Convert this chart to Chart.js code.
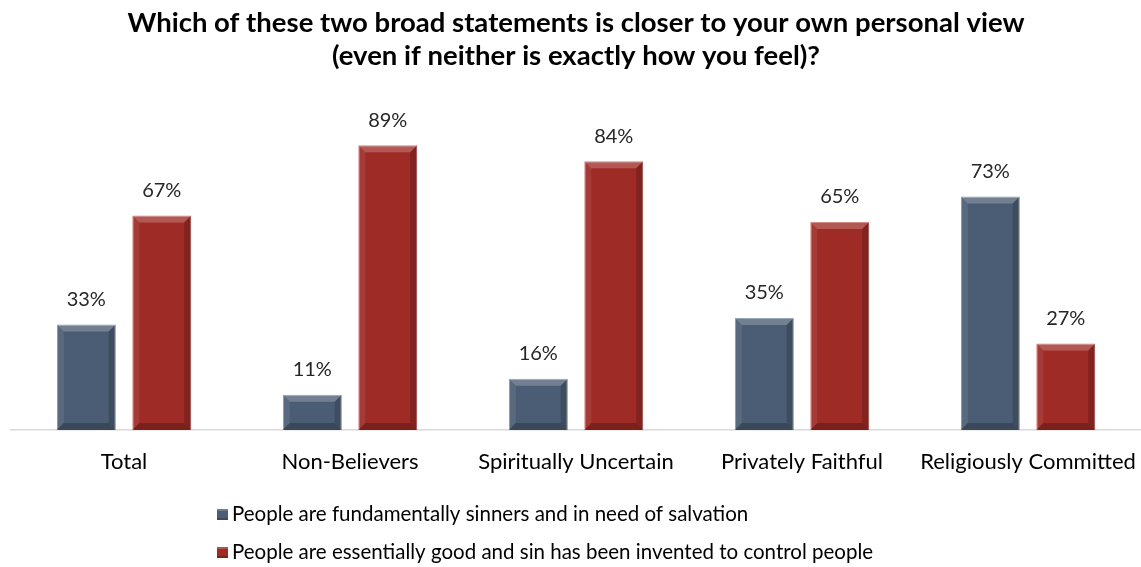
<!DOCTYPE html>
<html>
<head>
<meta charset="utf-8">
<script src="https://cdn.jsdelivr.net/npm/chart.js@4"></script>
<style>
  html, body { margin: 0; padding: 0; background: #fff; }
  #wrap { width: 1141px; height: 567px; }
</style>
</head>
<body>
<div id="wrap"><canvas id="chart"></canvas></div>
<script>
const categories = ['Total', 'Non-Believers', 'Spiritually Uncertain', 'Privately Faithful', 'Religiously Committed'];
const sinners = [33, 11, 16, 35, 73];
const good = [67, 89, 84, 65, 27];
const seriesNames = [
  'People are fundamentally sinners and in need of salvation',
  'People are essentially good and sin has been invented to control people'
];
const titleLines = [
  'Which of these two broad statements is closer to your own personal view',
  '(even if neither is exactly how you feel)?'
];

const FONT = 'Lato, "Open Sans", sans-serif';

// bevel edges on each bar, like the office chart style
const bevelPlugin = {
  id: 'bevel',
  afterDatasetsDraw(chart) {
    const ctx = chart.ctx;
    chart.data.datasets.forEach((ds, i) => {
      chart.getDatasetMeta(i).data.forEach(bar => {
        const l = bar.x - bar.width / 2, r = bar.x + bar.width / 2;
        const t = bar.y, b = bar.base;
        const s = Math.min(7, (b - t) / 2);
        ctx.save();
        const poly = (pts, col) => {
          ctx.beginPath();
          ctx.moveTo(pts[0][0], pts[0][1]);
          pts.slice(1).forEach(p => ctx.lineTo(p[0], p[1]));
          ctx.closePath();
          ctx.fillStyle = col;
          ctx.fill();
        };
        poly([[l, t], [r, t], [r - s, t + s], [l + s, t + s]], 'rgba(255,255,255,0.22)');
        poly([[l, t], [l + s, t + s], [l + s, b - s], [l, b]], 'rgba(255,255,255,0.08)');
        poly([[r, t], [r, b], [r - s, b - s], [r - s, t + s]], 'rgba(0,0,0,0.18)');
        poly([[l, b], [l + s, b - s], [r - s, b - s], [r, b]], 'rgba(0,0,0,0.22)');
        ctx.restore();
      });
    });
  }
};

const valueLabels = {
  id: 'valueLabels',
  afterDatasetsDraw(chart) {
    const ctx = chart.ctx;
    ctx.save();
    ctx.font = '20px ' + FONT;
    ctx.fillStyle = '#262626';
    ctx.textAlign = 'center';
    ctx.textBaseline = 'middle';
    chart.data.datasets.forEach((ds, i) => {
      chart.getDatasetMeta(i).data.forEach((bar, j) => {
        ctx.fillText(ds.data[j] + '%', bar.x, bar.y - 25);
      });
    });
    ctx.restore();
  }
};

// left-aligned stacked legend below the axis
const stackedLegend = {
  id: 'stackedLegend',
  afterDraw(chart) {
    const ctx = chart.ctx;
    ctx.save();
    ctx.font = '20.5px ' + FONT;
    ctx.textBaseline = 'middle';
    const rows = [514, 552];
    chart.data.datasets.forEach((ds, i) => {
      const y = rows[i];
      const x = 217;
      ctx.fillStyle = ds.backgroundColor;
      ctx.fillRect(x, y - 5, 11, 11);
      ctx.fillStyle = 'rgba(255,255,255,0.2)';
      ctx.fillRect(x, y - 5, 11, 2);
      ctx.fillStyle = 'rgba(0,0,0,0.2)';
      ctx.fillRect(x, y + 4, 11, 2);
      ctx.fillStyle = '#000';
      ctx.fillText(ds.label, x + 15, y);
    });
    ctx.restore();
  }
};

new Chart(document.getElementById('chart'), {
  type: 'bar',
  data: {
    labels: categories,
    datasets: [
      { label: seriesNames[0], data: sinners, backgroundColor: '#4b5d74', borderColor: '#7d8fa6', borderWidth: 1 },
      { label: seriesNames[1], data: good, backgroundColor: '#9e2b25', borderColor: '#c86a63', borderWidth: 1 }
    ]
  },
  options: {
    responsive: true,
    maintainAspectRatio: false,
    animation: false,
    categoryPercentage: 0.668,
    barPercentage: 0.78,
    layout: { padding: { top: 0, left: 11, right: 0, bottom: 77 } },
    plugins: {
      legend: { display: false },
      tooltip: { enabled: false },
      title: {
        display: true,
        text: titleLines,
        color: '#000',
        font: { family: FONT, size: 27.5, weight: 'bold', lineHeight: 1.2 },
        padding: { top: 7, bottom: 37 }
      }
    },
    scales: {
      x: {
        grid: { display: false, drawTicks: false },
        border: { display: true, color: '#d9d9d9', width: 1.5 },
        ticks: { color: '#000', font: { family: FONT, size: 22 }, padding: 19 },
        afterFit(scale) {
          scale.height = 60;
          scale.paddingLeft = 0;
          scale.paddingRight = 0;
        }
      },
      y: {
        display: false,
        min: 0,
        max: 100
      }
    }
  },
  plugins: [bevelPlugin, valueLabels, stackedLegend]
});
</script>
</body>
</html>
